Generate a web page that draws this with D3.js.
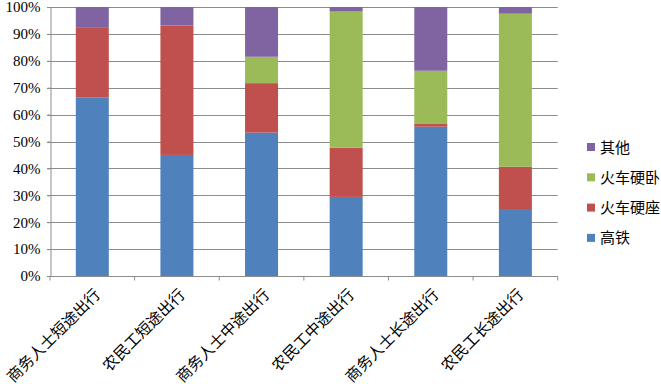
<!DOCTYPE html>
<html><head><meta charset="utf-8">
<script src="https://cdn.jsdelivr.net/npm/d3@7"></script>
<style>body{margin:0;background:#fff}svg{display:block}</style>
</head><body>
<svg id="c" width="661" height="384"></svg>
<script>
const categories = ["商务人士短途出行","农民工短途出行","商务人士中途出行","农民工中途出行","商务人士长途出行","农民工长途出行"];
const seriesNames = ["高铁","火车硬座","火车硬卧","其他"];
const gaotie   = [66.3, 45.0, 53.3, 29.4, 55.5, 24.9];
const yingzuo  = [26.2, 48.1, 18.4, 18.3, 1.0, 15.7];
const yingwo   = [0, 0, 9.8, 50.6, 19.8, 56.9];
const qita     = [7.5, 6.9, 18.5, 1.7, 23.7, 2.5];
const yTicks   = [0,10,20,30,40,50,60,70,80,90,100];
const colors   = ["#4F81BD","#C0504D","#9BBB59","#8064A2"];

(function(){
const svg = d3.select("#c");
const pL = 50, pR = 557.7, pT = 7, pB = 276;
const x = d3.scaleBand().domain(categories).range([pL, pR]).paddingInner(0.61).paddingOuter(0.305);
const y = d3.scaleLinear().domain([0,100]).range([pB, pT]);

svg.append("g").selectAll("line").data(yTicks).join("line")
  .attr("x1", pL-3).attr("x2", pR).attr("y1", d=>Math.round(y(d))+0.5).attr("y2", d=>Math.round(y(d))+0.5)
  .attr("stroke", "#8c8c8c").attr("stroke-width", 1);

const rows = categories.map((c,i)=>({cat:c, "高铁":gaotie[i], "火车硬座":yingzuo[i], "火车硬卧":yingwo[i], "其他":qita[i]}));
const stack = d3.stack().keys(seriesNames)(rows);

svg.append("g").selectAll("g").data(stack).join("g")
  .attr("fill", (d,i)=>colors[i])
  .selectAll("rect").data(d=>d).join("rect")
  .attr("x", d=>x(d.data.cat)).attr("width", x.bandwidth())
  .attr("y", d=>y(d[1])).attr("height", d=>Math.max(0, y(d[0])-y(d[1])));

const yAxis = svg.append("g").attr("transform", `translate(${pL+0.5},0)`)
  .call(d3.axisLeft(y).tickValues(yTicks).tickFormat(d=>d+"%").tickSize(3).tickPadding(7));
yAxis.select(".domain").attr("stroke","#8c8c8c");
yAxis.selectAll(".tick line").attr("stroke","#8c8c8c");
yAxis.selectAll("text").attr("font-family","'Liberation Serif', 'Times New Roman', serif").attr("font-size","15px").attr("fill","#000");

const xAxis = svg.append("g").attr("transform", `translate(0,${pB+0.5})`);
xAxis.append("line").attr("x1", pL).attr("x2", pR).attr("stroke","#8c8c8c");
const bounds = d3.range(categories.length+1).map(i=>pL + i*(pR-pL)/categories.length);
xAxis.selectAll("line.t").data(bounds).join("line").attr("class","t")
  .attr("x1", d=>d).attr("x2", d=>d).attr("y1",0).attr("y2",4).attr("stroke","#8c8c8c");
xAxis.selectAll("text").data(categories).join("text")
  .attr("transform", d=>`translate(${x(d)+x.bandwidth()/2+9},${19}) rotate(-45)`)
  .attr("text-anchor","end")
  .attr("font-family","'Noto Sans CJK SC', sans-serif").attr("font-size","15.5px").attr("fill","#000")
  .text(d=>d);

const leg = svg.append("g");
const legendOrder = seriesNames.slice().reverse();
legendOrder.forEach((name,i)=>{
  const ci = seriesNames.indexOf(name);
  const cy = 147 + i*30.3;
  leg.append("rect").attr("x",587).attr("y",cy-4).attr("width",8).attr("height",8).attr("fill",colors[ci]);
  leg.append("text").attr("x",600).attr("y",cy+5.5).attr("font-family","'Noto Sans CJK SC', sans-serif")
    .attr("font-size","15px").attr("fill","#000").text(name);
});
})();
</script>
</body></html>
